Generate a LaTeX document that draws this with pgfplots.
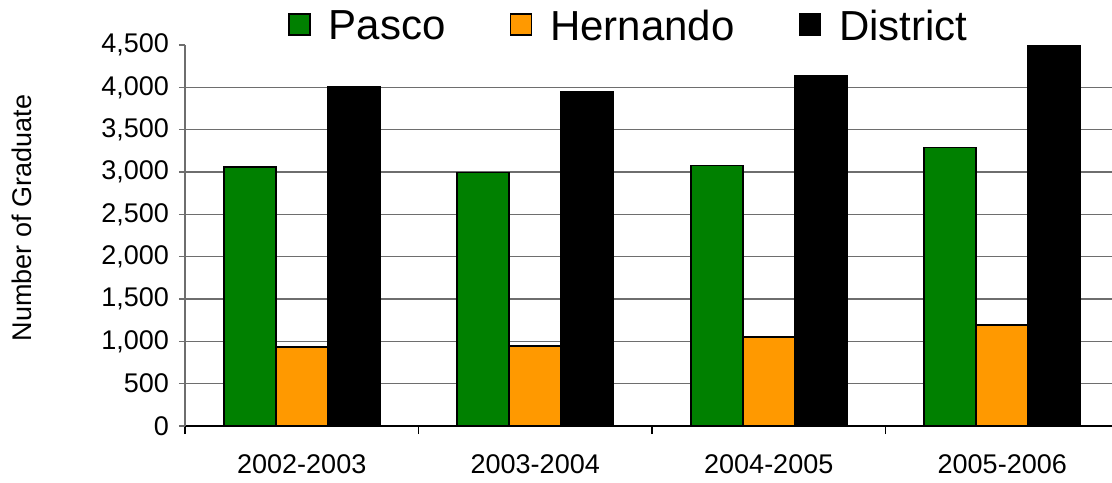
\documentclass[border=0pt]{standalone}
\usepackage{pgfplots}
\pgfplotsset{compat=1.18}
\usepackage{fontspec}
\setmainfont{Liberation Sans}
\definecolor{pasco}{RGB}{0,128,0}
\definecolor{hern}{RGB}{255,153,0}
\definecolor{gridgray}{RGB}{110,110,110}
\begin{document}
\begin{tikzpicture}
\begin{axis}[
  name=main,
  scale only axis,
  width=463.5pt, height=190.5pt,
  ybar=0pt, bar width=26pt,
  xmin=-0.5, xmax=3.47,
  ymin=0, ymax=4500,
  axis x line*=bottom,
  axis y line*=left,
  x axis line style={black, line width=0.8pt},
  y axis line style={gridgray, line width=0.8pt},
  xtick={0,1,2,3},
  xticklabels={2002-2003,2003-2004,2004-2005,2005-2006},
  major x tick style={draw=none},
  minor xtick={-0.5,0.5,1.5,2.5},
  minor x tick style={black, line width=0.6pt},
  ytick={0,500,...,4500},
  minor ytick={500,1000,...,4000},
  yminorgrids,
  minor grid style={gridgray, line width=0.6pt},
  y tick style={gridgray, line width=0.6pt},
  tick align=outside,
  major tick length=3pt, minor tick length=4pt,
  minor y tick style={draw=none},
  /pgf/number format/assume math mode=true,
  /pgf/number format/1000 sep={,},
  tick label style={font=\fontsize{13.5}{16}\selectfont},
  yticklabel style={xshift=-1.5pt},
  xticklabel style={yshift=-8pt},
  ylabel={Number of Graduate},
  ylabel style={font=\fontsize{13.5}{16}\selectfont, at={(axis description cs:-0.176,0.546)}, anchor=center},
  legend columns=3,
  legend style={draw=none, at={(axis description cs:0.48,1)}, anchor=south, yshift=-3.5pt,
    font=\fontsize{21}{24}\selectfont,
    /tikz/every odd column/.append style={column sep=7pt},
    /tikz/every even column/.append style={column sep=30pt}},
  legend image code/.code={\draw[#1, line width=0.8pt] (0pt,-4pt) rectangle (10.5pt,6.5pt);},
  every axis plot/.append style={draw=black, line width=0.8pt},
]
\addplot[fill=pasco] coordinates {(0,3060) (1,2993) (2,3079) (3,3288)};
\addplot[fill=hern] coordinates {(0,935) (1,947) (2,1049) (3,1194)};
\addplot[fill=black] coordinates {(0,4006) (1,3951) (2,4136) (3,4490)};
\legend{Pasco,Hernando,District}
\end{axis}
\pgfresetboundingbox
\path ([shift={(-92.5pt,-28pt)}]main.south west) rectangle ([shift={(0pt,22.5pt)}]main.north east);
\end{tikzpicture}
\end{document}
